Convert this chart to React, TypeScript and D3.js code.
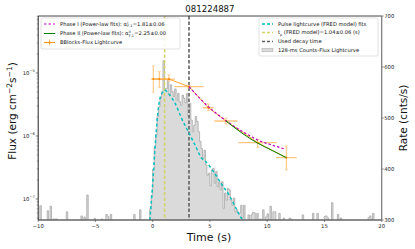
import React, { useEffect, useRef } from "react";
import * as d3 from "d3";

const chartTitle = "081224887";
const timeTicks = [-10, -5, 0, 5, 10, 15, 20];
const rateTicks = [300, 400, 500, 600, 700];
const fluxDecades = [-7, -6, -5];

// 128-ms counts lightcurve (cnts/s), first bin starts at -9.984 s
const binStart = -9.984;
const binWidth = 0.128;
const counts = [
  285, 328, 285, 285, 285, 285, 318, 285, 327, 285,
  302, 302, 302, 285, 285, 285, 285, 285, 285, 316,
  285, 285, 285, 285, 285, 285, 285, 285, 285, 308,
  285, 306, 285, 349, 285, 285, 285, 285, 303, 285,
  285, 285, 285, 302, 285, 285, 311, 307, 285, 311,
  285, 285, 285, 285, 285, 285, 285, 285, 285, 285,
  285, 285, 285, 285, 285, 311, 285, 285, 285, 320,
  285, 285, 285, 285, 285, 285, 322, 349, 400, 444,
  467, 503, 522, 539, 552, 612, 558, 558, 575, 545,
  565, 552, 542, 557, 535, 548, 532, 525, 545, 539,
  530, 548, 503, 529, 496, 473, 486, 503, 493, 473,
  454, 440, 421, 437, 408, 388, 392, 367, 398, 401,
  372, 395, 365, 375, 359, 375, 323, 353, 339, 362,
  359, 339, 329, 343, 316, 320, 313, 314, 329, 304,
  329, 285, 285, 310, 285, 310, 315, 314, 285, 313,
  285, 302, 285, 320, 285, 306, 312, 285, 327, 285,
  316, 316, 285, 285, 313, 285, 285, 304, 285, 285,
  285, 304, 302, 285, 285, 285, 285, 285, 285, 285,
  310, 285, 285, 285, 285, 285, 285, 313, 285, 285,
  313, 285, 285, 285, 285, 307, 308, 304, 285, 285,
  334, 285, 285, 285, 311, 285, 304, 285, 285, 285,
  285, 285, 285, 285, 285, 285, 285, 285, 285, 285,
  285, 285, 285, 285, 285, 305, 308, 285, 313, 285,
  285, 285, 285, 285, 285,
];

// Bayesian-blocks flux lightcurve
const bbTime = [0.05, 0.58, 1.42, 3.17, 4.86, 6.4, 9.17, 11.67];
const bbTimeErr = [0.2, 0.33, 0.52, 1.27, 0.48, 1.02, 1.68, 0.9];
const bbFlux = [8.0e-6, 8.0e-6, 8.0e-6, 6.07e-6, 2.81e-6, 1.73e-6, 7.83e-7, 4.53e-7];
const bbFluxLo = [4.94e-6, 5.93e-6, 7.46e-6, 5.8e-6, 2.52e-6, 1.55e-6, 6.62e-7, 2.88e-7];
const bbFluxHi = [1.29e-5, 1.05e-5, 9.3e-6, 6.35e-6, 3.22e-6, 1.91e-6, 8.87e-7, 6.93e-7];

// power-law fit lines
const phase1Time = [3.17, 4.86, 6.4, 7.8, 9.17, 10.5, 11.6];
const phase1Flux = [6.07e-6, 2.92e-6, 1.75e-6, 1.19e-6, 8.65e-7, 7.1e-7, 6.15e-7];
const phase2Time = [6.4, 7.8, 9.17, 10.5, 11.67];
const phase2Flux = [1.73e-6, 1.11e-6, 7.7e-7, 5.8e-7, 4.53e-7];

// FRED pulse fit (cnts/s)
const fredTime = [-0.25, -0.03, 0.2, 0.43, 0.64, 0.93, 1.04, 1.37, 1.95, 2.53, 3.11, 3.7, 4.28, 4.57, 5.3, 6.0, 6.75, 7.3, 7.7, 7.95];
const fredRate = [300, 362, 440, 506, 539, 552, 555, 548, 529, 499, 473, 447, 421, 416, 395, 371, 346, 322, 305, 298];

const peakTime = 1.04;
const decayTime = 3.17;

const W = 415;
const H = 249;
const left = 38.2;
const right = 381.7;
const top = 16;
const bottom = 220;
const font = "DejaVu Sans, sans-serif";

const cyan = "#00bfbf";
const magenta = "#c000c0";
const green = "#008000";
const orange = "#ff8c00";
const orangeLight = "#ffc680";
const yellow = "#d3d36a";
const darkDash = "#606060";

export default function App() {
  const ref = useRef<SVGSVGElement>(null);

  useEffect(() => {
    const svg = d3.select(ref.current);
    svg.selectAll("*").remove();

    const x = d3.scaleLinear().domain([-10, 20]).range([left, right]);
    const yFlux = d3.scaleLog().domain([4.64e-8, 8.03e-5]).range([bottom, top]);
    const yRate = d3.scaleLinear().domain([300, 700]).range([bottom, top]);

    svg.append("rect").attr("width", W).attr("height", H).attr("fill", "white");

    svg.append("defs").append("clipPath").attr("id", "plot-clip")
      .append("rect").attr("x", left).attr("y", top)
      .attr("width", right - left).attr("height", bottom - top);

    const body = svg.append("g").attr("clip-path", "url(#plot-clip)");

    // histogram
    const hist = counts.map((c, i) => ({ t: binStart + i * binWidth, c }));
    hist.push({ t: binStart + counts.length * binWidth, c: counts[counts.length - 1] });
    const histArea = d3.area<{ t: number; c: number }>()
      .x(d => x(d.t)).y0(yRate(250)).y1(d => yRate(d.c))
      .curve(d3.curveStepAfter);
    const histLine = d3.line<{ t: number; c: number }>()
      .x(d => x(d.t)).y(d => yRate(d.c))
      .curve(d3.curveStepAfter);
    body.append("path").attr("d", histArea(hist)).attr("fill", "#dadada");
    body.append("path").attr("d", histLine(hist)).attr("fill", "none")
      .attr("stroke", "#a8a8a8").attr("stroke-width", 0.8);

    // vertical lines
    body.append("line").attr("x1", x(peakTime)).attr("x2", x(peakTime))
      .attr("y1", top).attr("y2", bottom)
      .attr("stroke", yellow).attr("stroke-width", 1.6).attr("stroke-dasharray", "3.5,2");
    body.append("line").attr("x1", x(decayTime)).attr("x2", x(decayTime))
      .attr("y1", top).attr("y2", bottom)
      .attr("stroke", darkDash).attr("stroke-width", 1.6).attr("stroke-dasharray", "3.5,2");

    // FRED fit
    const fredLine = d3.line<number>()
      .x((d, i) => x(fredTime[i])).y(d => yRate(d))
      .curve(d3.curveMonotoneX);
    body.append("path").attr("d", fredLine(fredRate)).attr("fill", "none")
      .attr("stroke", cyan).attr("stroke-width", 1.5).attr("stroke-dasharray", "3,2.5");

    // BBlocks error bars
    const bb = body.append("g");
    bbTime.forEach((t, i) => {
      bb.append("line").attr("x1", x(t - bbTimeErr[i])).attr("x2", x(t + bbTimeErr[i]))
        .attr("y1", yFlux(bbFlux[i])).attr("y2", yFlux(bbFlux[i]))
        .attr("stroke", orangeLight).attr("stroke-width", 1.3);
      bb.append("line").attr("x1", x(t)).attr("x2", x(t))
        .attr("y1", yFlux(bbFluxLo[i])).attr("y2", yFlux(bbFluxHi[i]))
        .attr("stroke", orangeLight).attr("stroke-width", 1.1);
      [bbFluxLo[i], bbFluxHi[i]].forEach(v => {
        bb.append("line").attr("x1", x(t) - 1.5).attr("x2", x(t) + 1.5)
          .attr("y1", yFlux(v)).attr("y2", yFlux(v))
          .attr("stroke", orangeLight).attr("stroke-width", 0.8);
      });
    });
    const bbLine = d3.line<number>().x((d, i) => x(bbTime[i])).y(d => yFlux(d));
    bb.append("path").attr("d", bbLine(bbFlux)).attr("fill", "none")
      .attr("stroke", orange).attr("stroke-width", 0.8);

    // power-law fits
    const p1 = d3.line<number>().x((d, i) => x(phase1Time[i])).y(d => yFlux(d)).curve(d3.curveMonotoneX);
    body.append("path").attr("d", p1(phase1Flux)).attr("fill", "none")
      .attr("stroke", magenta).attr("stroke-width", 1.2).attr("stroke-dasharray", "2.5,2");
    const p2 = d3.line<number>().x((d, i) => x(phase2Time[i])).y(d => yFlux(d)).curve(d3.curveMonotoneX);
    body.append("path").attr("d", p2(phase2Flux)).attr("fill", "none")
      .attr("stroke", green).attr("stroke-width", 1);

    bb.selectAll("circle.pt").data(bbFlux).enter().append("circle")
      .attr("cx", (d, i) => x(bbTime[i])).attr("cy", d => yFlux(d))
      .attr("r", 1).attr("fill", orange);

    // spines
    const sp = svg.append("g").attr("fill", "none");
    sp.append("line").attr("x1", left).attr("x2", right).attr("y1", top).attr("y2", top)
      .attr("stroke", "#444").attr("stroke-width", 1);
    sp.append("line").attr("x1", left).attr("x2", right).attr("y1", bottom).attr("y2", bottom)
      .attr("stroke", "#666").attr("stroke-width", 1.4);
    sp.append("line").attr("x1", left).attr("x2", left).attr("y1", top).attr("y2", bottom)
      .attr("stroke", "#222").attr("stroke-width", 1);
    sp.append("line").attr("x1", right).attr("x2", right).attr("y1", top).attr("y2", bottom)
      .attr("stroke", "#777").attr("stroke-width", 1.2);

    // x axis
    const xa = svg.append("g").attr("font-family", font).attr("font-size", 5.3).attr("fill", "#222");
    timeTicks.forEach(t => {
      xa.append("line").attr("x1", x(t)).attr("x2", x(t)).attr("y1", bottom).attr("y2", bottom + 2)
        .attr("stroke", "#444").attr("stroke-width", 0.6);
      xa.append("text").attr("x", x(t)).attr("y", bottom + 8).attr("text-anchor", "middle")
        .text(t < 0 ? "\u2212" + Math.abs(t) : String(t));
    });

    // right axis
    const ra = svg.append("g").attr("font-family", font).attr("font-size", 5.3).attr("fill", "#222");
    rateTicks.forEach(r => {
      ra.append("line").attr("x1", right).attr("x2", right + 2).attr("y1", yRate(r)).attr("y2", yRate(r))
        .attr("stroke", "#444").attr("stroke-width", 0.6);
      ra.append("text").attr("x", right + 2.5).attr("y", yRate(r) + 1.9).text(String(r));
    });

    // left log axis
    const la = svg.append("g").attr("font-family", font).attr("fill", "#222");
    fluxDecades.forEach(p => {
      const yy = yFlux(Math.pow(10, p));
      la.append("line").attr("x1", left - 2.5).attr("x2", left).attr("y1", yy).attr("y2", yy)
        .attr("stroke", "#333").attr("stroke-width", 0.6);
      const tx = la.append("text").attr("x", left - 3.5).attr("y", yy + 1.8)
        .attr("text-anchor", "end").attr("font-size", 5.3);
      tx.append("tspan").text("10");
      tx.append("tspan").attr("font-size", 3.6).attr("dy", -2.3).text("\u2212" + Math.abs(p));
    });
    [-8, -7, -6, -5].forEach(p => {
      for (let m = 2; m <= 9; m++) {
        const v = m * Math.pow(10, p);
        if (v < 4.64e-8 || v > 8.03e-5) continue;
        const yy = yFlux(v);
        la.append("line").attr("x1", left - 1.5).attr("x2", left).attr("y1", yy).attr("y2", yy)
          .attr("stroke", "#333").attr("stroke-width", 0.4);
      }
    });

    // labels
    svg.append("text").attr("x", (left + right) / 2).attr("y", 12).attr("text-anchor", "middle")
      .attr("font-family", font).attr("font-size", 8.6).attr("fill", "#111").text(chartTitle);
    svg.append("text").attr("x", 209).attr("y", 241).attr("text-anchor", "middle")
      .attr("font-family", font).attr("font-size", 11).attr("fill", "#111").text("Time (s)");
    const fl = svg.append("text").attr("transform", "translate(16,111) rotate(-90)")
      .attr("text-anchor", "middle").attr("font-family", font).attr("font-size", 10.5).attr("fill", "#111");
    fl.append("tspan").text("Flux (erg cm");
    fl.append("tspan").attr("font-size", 7.5).attr("dy", -4).text("\u22122");
    fl.append("tspan").attr("dy", 4).text("s");
    fl.append("tspan").attr("font-size", 7.5).attr("dy", -4).text("\u22121");
    fl.append("tspan").attr("dy", 4).text(")");
    svg.append("text").attr("transform", "translate(407,118) rotate(-90)")
      .attr("text-anchor", "middle").attr("font-family", font).attr("font-size", 10.5).attr("fill", "#111")
      .text("Rate (cnts/s)");

    // legends
    const lf = 5.2;
    const leg1 = svg.append("g").attr("font-family", font).attr("font-size", lf).attr("fill", "#111");
    leg1.append("rect").attr("x", 41).attr("y", 18).attr("width", 139).attr("height", 31).attr("rx", 1.5)
      .attr("fill", "white").attr("fill-opacity", 0.85).attr("stroke", "#ccc").attr("stroke-width", 0.6);
    const mathRow = (yy: number, label: string, sup: string, value: string) => {
      const t1 = leg1.append("text").attr("x", 60).attr("y", yy + 1.8).text(label + "\u03b1");
      const w = (t1.node() as SVGTextElement).getComputedTextLength();
      leg1.append("text").attr("x", 60 + w + 0.3).attr("y", yy - 0.4).attr("font-size", 3.4).text(sup);
      const ts = leg1.append("text").attr("x", 60 + w + 0.3).attr("y", yy + 3).attr("font-size", 3.4).text("F,1");
      const ws = (ts.node() as SVGTextElement).getComputedTextLength();
      leg1.append("text").attr("x", 60 + w + ws + 0.6).attr("y", yy + 1.8).text(value);
    };
    leg1.append("line").attr("x1", 44).attr("x2", 55).attr("y1", 24).attr("y2", 24)
      .attr("stroke", magenta).attr("stroke-width", 1.2).attr("stroke-dasharray", "2.5,2");
    mathRow(24, "Phase I (Power-law fits): ", "I", "=1.81\u00b10.06");
    leg1.append("line").attr("x1", 44).attr("x2", 55).attr("y1", 33.5).attr("y2", 33.5)
      .attr("stroke", green).attr("stroke-width", 1);
    mathRow(33.5, "Phase II (Power-law fits): ", "II", "=2.25\u00b10.00");
    leg1.append("line").attr("x1", 44).attr("x2", 55).attr("y1", 42.5).attr("y2", 42.5)
      .attr("stroke", orangeLight).attr("stroke-width", 1.3);
    leg1.append("line").attr("x1", 49.5).attr("x2", 49.5).attr("y1", 39.5).attr("y2", 45.5)
      .attr("stroke", orangeLight).attr("stroke-width", 1.1);
    leg1.append("line").attr("x1", 44).attr("x2", 55).attr("y1", 42.5).attr("y2", 42.5)
      .attr("stroke", orange).attr("stroke-width", 0.8);
    leg1.append("circle").attr("cx", 49.5).attr("cy", 42.5).attr("r", 1).attr("fill", orange);
    leg1.append("text").attr("x", 60).attr("y", 44.3).text("BBlocks-Flux Lightcurve");

    const leg2 = svg.append("g").attr("font-family", font).attr("font-size", lf).attr("fill", "#111");
    leg2.append("rect").attr("x", 259).attr("y", 18).attr("width", 119).attr("height", 38).attr("rx", 1.5)
      .attr("fill", "white").attr("fill-opacity", 0.85).attr("stroke", "#ccc").attr("stroke-width", 0.6);
    const dashRow = (yy: number, color: string) => leg2.append("line")
      .attr("x1", 262).attr("x2", 273).attr("y1", yy).attr("y2", yy)
      .attr("stroke", color).attr("stroke-width", 1.4).attr("stroke-dasharray", "3,2");
    dashRow(24, cyan);
    leg2.append("text").attr("x", 278).attr("y", 25.8).text("Pulse lightcurve (FRED model) fits");
    dashRow(32.5, yellow);
    const tp = leg2.append("text").attr("x", 278).attr("y", 34.3);
    tp.append("tspan").text("t");
    tp.append("tspan").attr("font-size", 3.4).attr("dy", 1.2).text("p");
    tp.append("tspan").attr("dy", -1.2).text(" (FRED model)=1.04\u00b10.06 (s)");
    dashRow(41.5, darkDash);
    leg2.append("text").attr("x", 278).attr("y", 43.3).text("Used decay time");
    leg2.append("rect").attr("x", 262).attr("y", 48.2).attr("width", 11).attr("height", 3.6)
      .attr("fill", "#dadada").attr("stroke", "#a8a8a8").attr("stroke-width", 0.5);
    leg2.append("text").attr("x", 278).attr("y", 51.8).text("128-ms Counts-Flux Lightcurve");
  }, []);

  return (
    <svg ref={ref} width={W} height={H} style={{ position: "absolute", left: 0, top: 0 }} />
  );
}
